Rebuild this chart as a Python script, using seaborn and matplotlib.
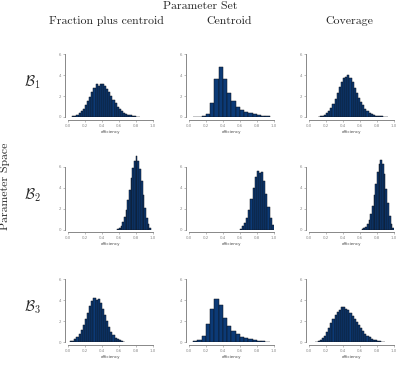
import pandas as pd
import matplotlib
matplotlib.use('Agg')
from matplotlib import pyplot as plt
import seaborn as sns

sns.set_style('ticks')
plt.rcParams['font.family'] = ['cmr10', 'DejaVu Serif']
plt.rcParams['mathtext.fontset'] = 'cm'
plt.rcParams['axes.formatter.use_mathtext'] = True

# each panel: first bin edge, bin width, bin heights (density)
frac_b1_start, frac_b1_width = 0.05, 0.025
frac_b1 = [0.05, 0.1, 0.2, 0.35, 0.55, 0.8, 1.1, 1.5, 1.95, 2.4, 2.8, 3.15, 3.0, 3.2, 3.15, 2.95,
           2.7, 2.35, 2.0, 1.6, 1.3, 1.0, 0.75, 0.55, 0.4, 0.3, 0.2, 0.15, 0.1, 0.07, 0.04, 0.02]
cent_b1_start, cent_b1_width = 0.05, 0.05
cent_b1 = [0.02, 0.04, 0.08, 0.25, 1.33, 3.68, 4.82, 3.66, 2.34, 1.5, 0.92, 0.64, 0.48, 0.34,
           0.26, 0.16, 0.12, 0.06]
cov_b1_start, cov_b1_width = 0.10, 0.025
cov_b1 = [0.03, 0.06, 0.12, 0.2, 0.35, 0.55, 0.85, 1.25, 1.75, 2.3, 2.85, 3.35, 3.7, 3.85, 4.0,
          3.75, 3.3, 2.8, 2.3, 1.85, 1.45, 1.1, 0.8, 0.6, 0.42, 0.3, 0.2, 0.14, 0.1, 0.07, 0.05,
          0.03, 0.02]

frac_b2_start, frac_b2_width = 0.58, 0.02
frac_b2 = [0.05, 0.15, 0.35, 0.7, 1.2, 1.9, 2.8, 3.8, 4.9, 5.9, 6.6, 7.0, 6.6, 5.8, 4.6, 3.3,
           2.1, 1.1, 0.5, 0.15]
cent_b2_start, cent_b2_width = 0.60, 0.025
cent_b2 = [0.1, 0.3, 0.6, 1.1, 1.9, 2.9, 4.0, 5.0, 5.6, 5.4, 5.5, 4.6, 3.4, 2.2, 1.1, 0.4]
cov_b2_start, cov_b2_width = 0.62, 0.02
cov_b2 = [0.05, 0.12, 0.25, 0.5, 0.9, 1.5, 2.3, 3.3, 4.4, 5.5, 6.3, 6.7, 6.3, 5.3, 3.9, 2.5,
          1.3, 0.5, 0.15]

frac_b3_start, frac_b3_width = 0.025, 0.025
frac_b3 = [0.05, 0.12, 0.25, 0.45, 0.75, 1.15, 1.65, 2.2, 2.8, 3.4, 3.9, 4.25, 4.0, 4.1, 3.7,
           3.2, 2.6, 2.0, 1.45, 1.0, 0.65, 0.4, 0.25, 0.15, 0.08, 0.04]
cent_b3_start, cent_b3_width = 0.05, 0.05
cent_b3 = [0.05, 0.15, 0.55, 1.72, 3.15, 4.15, 3.57, 2.34, 1.53, 1.07, 0.75, 0.49, 0.36, 0.26,
           0.16, 0.1, 0.06, 0.03]
cov_b3_start, cov_b3_width = 0.075, 0.025
cov_b3 = [0.03, 0.08, 0.18, 0.35, 0.6, 0.95, 1.35, 1.8, 2.2, 2.55, 2.85, 3.1, 3.3, 3.35, 3.2,
          3.05, 2.8, 2.5, 2.2, 1.9, 1.6, 1.3, 1.05, 0.8, 0.6, 0.45, 0.32, 0.22, 0.15, 0.1, 0.07,
          0.04, 0.02]

col_titles = ['Fraction plus centroid', 'Centroid', 'Coverage']
row_labels = [r'$\mathcal{B}_1$', r'$\mathcal{B}_2$', r'$\mathcal{B}_3$']
x_ticks = [0.0, 0.2, 0.4, 0.6, 0.8, 1.0]
y_ticks = [0, 2, 4, 6]

panels = [
    [(frac_b1_start, frac_b1_width, frac_b1), (cent_b1_start, cent_b1_width, cent_b1),
     (cov_b1_start, cov_b1_width, cov_b1)],
    [(frac_b2_start, frac_b2_width, frac_b2), (cent_b2_start, cent_b2_width, cent_b2),
     (cov_b2_start, cov_b2_width, cov_b2)],
    [(frac_b3_start, frac_b3_width, frac_b3), (cent_b3_start, cent_b3_width, cent_b3),
     (cov_b3_start, cov_b3_width, cov_b3)],
]

fig = plt.figure(figsize=(4.02, 3.65), dpi=100)
lefts = [0.169, 0.470, 0.769]
bottoms = [0.6795, 0.371, 0.063]
title_x = [0.265, 0.569, 0.868]
bar_color = '#0c3a76'
spine_color = '#888888'

for r, row in enumerate(panels):
    for c, (start, width, heights) in enumerate(row):
        ax = fig.add_axes([lefts[c], bottoms[r], 0.211, 0.212])
        edges = [round(start + width * i, 4) for i in range(len(heights) + 1)]
        centers = [e + width / 2 for e in edges[:-1]]
        df = pd.DataFrame({'efficiency': centers, 'density': heights})
        sns.histplot(data=df, x='efficiency', weights='density', bins=edges, ax=ax,
                     color=bar_color, edgecolor='#10141c', linewidth=0.35, alpha=1)
        ax.set_xlim(0, 1)
        ax.set_ylim(0, 7.4)
        ax.set_xticks(x_ticks)
        ax.set_yticks(y_ticks)
        sns.despine(ax=ax, offset=2, trim=True)
        # trim resets the tick labels, so style them afterwards
        ax.set_xticks(x_ticks)
        ax.set_yticks(y_ticks)
        ax.set_xticklabels([f'{t:.1f}' for t in x_ticks], fontsize=2.8, color='#555555',
                           family='DejaVu Sans')
        ax.set_yticklabels([str(t) for t in y_ticks], fontsize=2.8, color='#555555',
                           family='DejaVu Sans')
        ax.set_xlabel('efficiency', fontsize=2.9, color='#444444', family='DejaVu Sans',
                      labelpad=1.5)
        ax.set_ylabel('')
        ax.tick_params(length=1.2, width=0.4, pad=1.5, colors=spine_color)
        for s in ['left', 'bottom']:
            ax.spines[s].set_color(spine_color)
            ax.spines[s].set_linewidth(0.7)

fig.text(0.497, 0.983, 'Parameter Set', ha='center', va='center', fontsize=8.5)
for c, title in enumerate(col_titles):
    fig.text(title_x[c], 0.943, title, ha='center', va='center', fontsize=8.5)
for r, label in enumerate(row_labels):
    fig.text(0.08, bottoms[r] + 0.095, label, ha='center', va='center', fontsize=10.5)
fig.text(0.012, 0.49, 'Parameter Space', rotation=90, ha='center', va='center', fontsize=8.5)

fig.savefig('out.png', dpi=100)
